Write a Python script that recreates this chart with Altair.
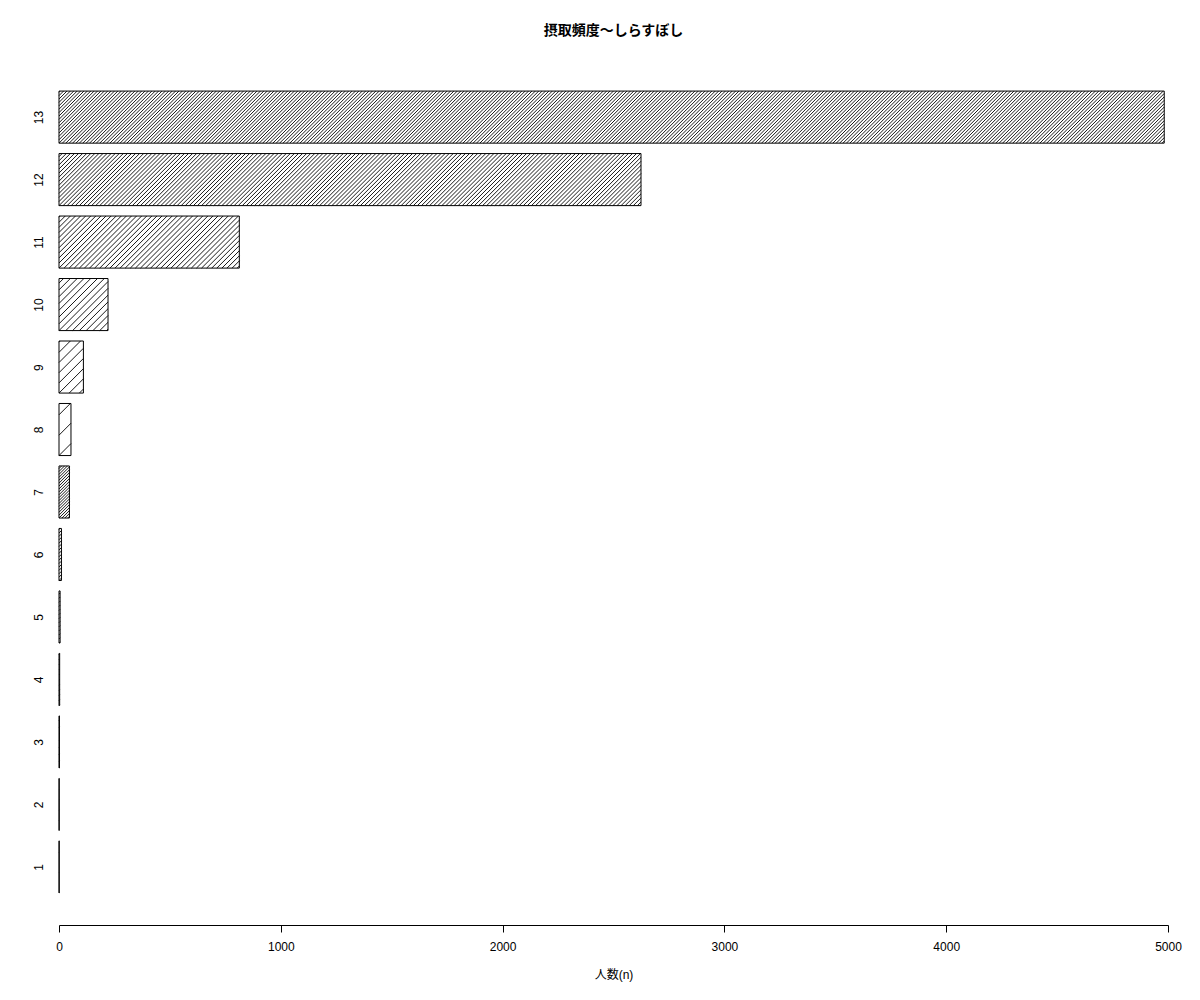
import math
import altair as alt
import pandas as pd

# ---- data ----
categories = ["1", "2", "3", "4", "5", "6", "7", "8", "9", "10", "11", "12", "13"]
counts = [1, 1, 2, 3, 5, 11, 47, 54, 110, 221, 813, 2624, 4983]
densities = [5, 10, 15, 20, 25, 30, 35, 5, 10, 15, 20, 25, 30]  # hatch lines per inch
x_ticks = [0, 1000, 2000, 3000, 4000, 5000]
title_text = "摂取頻度〜しらすぼし"
x_title = "人数(n)"

# ---- layout (R barplot style: width 1, space 0.2) ----
W, H = 1109, 866
X_MAX = 5000
Y_MIN, Y_MAX = -0.416, 16.216
sx = W / X_MAX
sy = H / (Y_MAX - Y_MIN)

bars = pd.DataFrame({
    "cat": categories,
    "n": counts,
    "lo": [0.2 + 1.2 * i for i in range(len(categories))],
})
bars["hi"] = bars["lo"] + 1.0
bars["mid"] = bars["lo"] + 0.5

# hatch segments at 45 degrees, clipped to each bar
rows = []
for cat, n, lo, d in zip(categories, counts, bars["lo"], densities):
    wb = n * sx            # bar width in px
    hb = 1.0 * sy          # bar height in px
    step = math.sqrt(2) * 72.0 / d
    k = math.ceil(-hb / step)
    while k * step < wb:
        c = k * step
        v0 = max(0.0, -c)
        v1 = min(hb, wb - c)
        if v1 > v0:
            rows.append({
                "x": (v0 + c) / sx, "x2": (v1 + c) / sx,
                "y": lo + v0 / sy, "y2": lo + v1 / sy,
            })
        k += 1
hatch = pd.DataFrame(rows)

FONT = "Liberation Sans, Noto Sans CJK JP"

xscale = alt.Scale(domain=[0, X_MAX], nice=False, zero=False)
yscale = alt.Scale(domain=[Y_MIN, Y_MAX], nice=False, zero=False)

x_axis = alt.Axis(values=x_ticks, title=x_title, grid=False, format="d",
                  domainColor="black", tickColor="black", tickSize=7,
                  labelPadding=9, labelFontSize=12, labelFont=FONT,
                  labelColor="black", titleFont=FONT, titleFontSize=12,
                  titleFontWeight="normal", titleColor="black",
                  titlePadding=17, labelFlush=False)
y_axis = alt.Axis(values=list(bars["mid"]), title=None, grid=False,
                  domain=False, ticks=False, labelAngle=270,
                  labelAlign="center", labelBaseline="alphabetic",
                  labelPadding=17, labelFontSize=12, labelFont=FONT,
                  labelColor="black",
                  labelExpr="format(round((datum.value - 0.7) / 1.2) + 1, 'd')")

rects = alt.Chart(bars).mark_rect(fill=None, stroke="black", strokeWidth=1).encode(
    x=alt.X("zero:Q", scale=xscale, axis=x_axis),
    x2="n:Q",
    y=alt.Y("lo:Q", scale=yscale, axis=y_axis),
    y2="hi:Q",
).transform_calculate(zero="0")

lines = alt.Chart(hatch).mark_rule(color="black", strokeWidth=0.9).encode(
    x=alt.X("x:Q", scale=xscale, axis=x_axis),
    x2="x2:Q",
    y=alt.Y("y:Q", scale=yscale, axis=y_axis),
    y2="y2:Q",
)

chart = alt.layer(lines, rects).properties(
    width=W,
    height=H,
    background="white",
    title=alt.Title(title_text, font="Noto Sans CJK JP", fontSize=14,
                    fontWeight="bold", color="black", anchor="middle",
                    frame="group", baseline="bottom", offset=7),
    autosize=alt.AutoSizeParams(type="none"),
    padding={"left": 51, "top": 51, "right": 20, "bottom": 60},
).configure_view(strokeWidth=0)

chart.save("out.html", embed_options={"renderer": "svg", "actions": False})
